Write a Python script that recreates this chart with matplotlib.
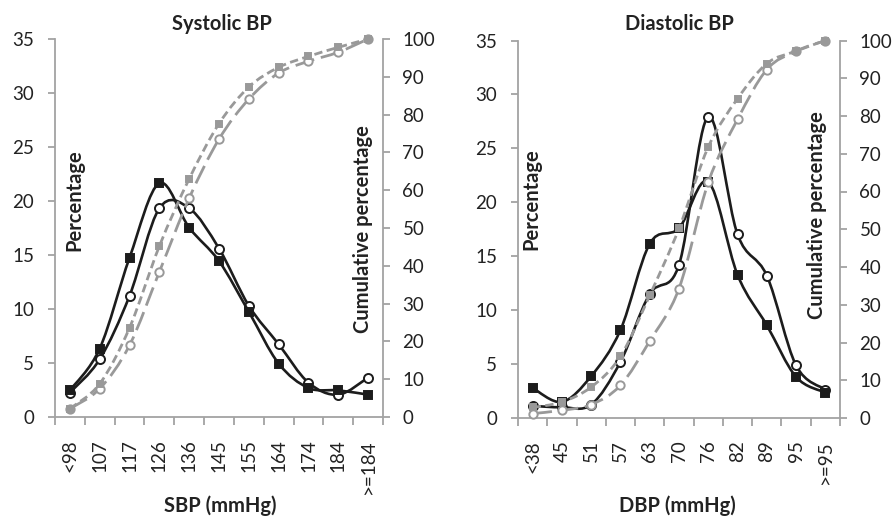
import numpy as np
import matplotlib
matplotlib.use('Agg')
import matplotlib.pyplot as plt
from matplotlib.path import Path
from matplotlib.patches import PathPatch

plt.rcParams['font.family'] = ['Lato', 'DejaVu Sans']

# ---------------- data ----------------
sbp_labels = ['<98', '107', '117', '126', '136', '145', '155', '164', '174', '184', '>=184']
sbp_sq = [2.47, 6.34, 14.75, 21.65, 17.53, 14.44, 9.74, 4.95, 2.69, 2.47, 2.07]
sbp_ci = [2.26, 5.35, 11.22, 19.33, 19.33, 15.6, 10.3, 6.74, 3.18, 2.07, 3.65]
sbp_sq_cum = [2.2, 8.8, 23.6, 45.2, 63.0, 77.6, 87.3, 92.5, 95.4, 97.8, 100]
sbp_ci_cum = [2.2, 7.5, 19.0, 38.4, 57.9, 73.5, 84.1, 91.0, 94.1, 96.5, 100]

dbp_labels = ['<38', '45', '51', '57', '63', '70', '76', '82', '89', '95', '>=95']
dbp_sq = [2.79, 1.49, 3.88, 8.16, 16.16, 17.6, 21.9, 13.27, 8.6, 3.81, 2.36]
dbp_ci = [1.12, 1.0, 1.24, 5.21, 11.5, 14.2, 27.94, 17.02, 13.2, 4.87, 2.64]
dbp_sq_cum = [2.8, 4.24, 8.2, 16.3, 32.5, 50.2, 71.8, 84.6, 93.9, 97.2, 100]
dbp_ci_cum = [1.17, 2.04, 3.55, 8.66, 20.4, 34.3, 62.4, 79.1, 92.3, 97.2, 100]

BLACK = '#1c1c1c'
GRAY = '#999999'
SPINE = '#a3a3a3'
TXT = '#222222'
TICK_FS = 13.5
LAB_FS = 14.5


def smooth_path(xs, ys):
    """Excel-like smoothed line: cubic Bezier through the points."""
    P = np.column_stack([xs, ys]).astype(float)
    n = len(P)
    verts = [P[0]]
    codes = [Path.MOVETO]
    for i in range(n - 1):
        p0 = P[i - 1] if i > 0 else P[i]
        p1 = P[i]
        p2 = P[i + 1]
        p3 = P[i + 2] if i + 2 < n else P[i + 1]
        c1 = p1 + (p2 - p0) / 6.0
        c2 = p2 - (p3 - p1) / 6.0
        verts += [c1, c2, p2]
        codes += [Path.CURVE4] * 3
    return Path(verts, codes)


def draw_series(ax, xs, ys, color, lw, ls, marker, ms, mfc, mec, z):
    patch = PathPatch(smooth_path(xs, ys), fill=False, edgecolor=color,
                      lw=lw, linestyle=ls, zorder=z, capstyle='butt')
    ax.add_patch(patch)
    ax.plot(xs, ys, linestyle='none', marker=marker, ms=ms, mfc=mfc,
            mec=mec, mew=1.4, zorder=z + 0.5, clip_on=False)


def panel(rect, labels, sq, ci, sq_cum, ci_cum):
    ax = fig.add_axes(rect)
    ax2 = ax.twinx()
    x = np.arange(len(labels))

    draw_series(ax, x, ci, BLACK, 1.9, '-', 'o', 6.5, 'white', BLACK, 3)
    draw_series(ax, x, sq, BLACK, 1.9, '-', 's', 6.0, BLACK, BLACK, 4)
    draw_series(ax2, x, ci_cum, GRAY, 2.0, (0, (7, 2.5)), 'o', 6.0, 'white', GRAY, 3)
    draw_series(ax2, x, sq_cum, GRAY, 2.0, (0, (3, 1.6)), 's', 5.0, GRAY, GRAY, 4)

    ax.set_xlim(-0.5, len(labels) - 0.5)
    ax.set_ylim(0, 35)
    ax2.set_ylim(0, 100)
    ax.set_yticks(np.arange(0, 36, 5))
    ax2.set_yticks(np.arange(0, 101, 10))

    ax.set_xticks(x)
    ax.set_xticklabels(labels, rotation=90, va='top', ha='center')
    ax.set_xticks(np.arange(-0.5, len(labels), 1), minor=True)
    ax.tick_params(axis='x', which='major', length=0, pad=16, labelsize=TICK_FS,
                   labelcolor=TXT)
    ax.tick_params(axis='x', which='minor', length=6, width=1.3, color=SPINE,
                   direction='out')
    ax.tick_params(axis='y', length=5, width=1.3, color=SPINE, direction='out',
                   pad=10, labelsize=TICK_FS, labelcolor=TXT)
    ax2.tick_params(axis='y', length=5, width=1.3, color=SPINE, direction='out',
                    pad=9, labelsize=TICK_FS, labelcolor=TXT)

    for a in (ax, ax2):
        for s in a.spines.values():
            s.set_color(SPINE)
            s.set_linewidth(1.3)
        a.spines['top'].set_visible(False)
    ax.spines['right'].set_visible(False)
    ax2.spines['left'].set_visible(False)
    ax2.spines['bottom'].set_visible(False)
    ax.patch.set_visible(False)
    return ax, ax2


W, H = 896, 521
fig = plt.figure(figsize=(W / 100, H / 100), dpi=100)


def fx(px):
    return px / W


def fy(py):
    return 1 - py / H


panel([fx(55), fy(417), fx(383 - 55), (417 - 39) / H],
      sbp_labels, sbp_sq, sbp_ci, sbp_sq_cum, sbp_ci_cum)
panel([fx(518), fy(418), fx(840 - 518), (418 - 40.5) / H],
      dbp_labels, dbp_sq, dbp_ci, dbp_sq_cum, dbp_ci_cum)

tkw = dict(fontsize=LAB_FS, fontweight='bold', color=TXT, ha='center', va='center')
fig.text(fx(222), fy(24), 'Systolic BP', **tkw)
fig.text(fx(679), fy(24), 'Diastolic BP', **tkw)
fig.text(fx(220), fy(506), 'SBP (mmHg)', **tkw)
fig.text(fx(677), fy(506), 'DBP (mmHg)', **tkw)
fig.text(fx(74), fy(200), 'Percentage', rotation=90, **tkw)
fig.text(fx(531), fy(199), 'Percentage', rotation=90, **tkw)
fig.text(fx(363), fy(229), 'Cumulative percentage', rotation=90, **tkw)
fig.text(fx(817), fy(215), 'Cumulative percentage', rotation=90, **tkw)

fig.savefig('out.png', dpi=100)
